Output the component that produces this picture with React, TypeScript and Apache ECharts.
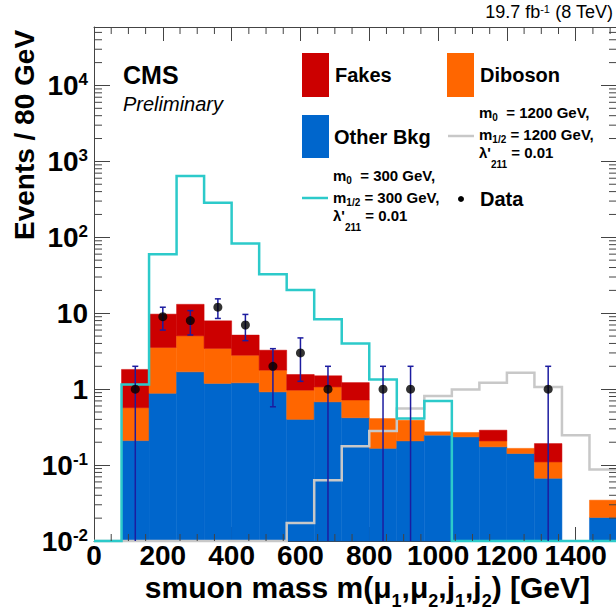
import React, { useEffect, useRef } from "react";
import * as echarts from "echarts";

const FONT = "'Liberation Sans', Arial, Helvetica, sans-serif";

// 80 GeV bins
const binEdges = [0, 80, 160, 240, 320, 400, 480, 560, 640, 720, 800, 880, 960, 1040, 1120, 1200, 1280, 1360, 1440, 1520];

// stacked backgrounds (bottom to top)
const otherBkg = [0, 0.21, 0.88, 1.69, 1.19, 1.21, 0.92, 0.4, 0.68, 0.42, 0.166, 0.208, 0.248, 0.235, 0.174, 0.142, 0.067, 0, 0.0204];
const diboson = [0, 0.36, 2.66, 3.35, 2.25, 1.59, 0.86, 0.57, 0.39, 0.3, 0.244, 0.182, 0.026, 0.034, 0.034, 0.024, 0.043, 0, 0.0141];
const fakes = [0, 1.25, 6.19, 8.06, 4.5, 2.35, 1.48, 0.59, 0.43, 0.5, 0, 0, 0, 0, 0.08, 0, 0.082, 0, 0];

// signal hypotheses
const signal300 = [0, 1.15, 60, 640, 285, 83, 32.7, 20.2, 8.3, 4.0, 1.34, 0.41, 0.7, 0, 0, 0, 0, 0, 0];
const signal1200 = [0, 0, 0, 0, 0, 0, 0, 0.0173, 0.063, 0.177, 0.282, 0.557, 0.81, 0.99, 1.21, 1.64, 1.07, 0.248, 0.0875];

// observed events per bin
const dataEvents = [0, 1, 9, 8, 12, 7, 2, 3, 1, 0, 1, 1, 0, 0, 0, 0, 1, 0, 0];

const xTickLabels = ["0", "200", "400", "600", "800", "1000", "1200", "1400"];

const X_MIN = 0;
const X_MAX = 1520;
const Y_MIN = 0.01;
const Y_MAX = Math.pow(10, 4.77);

const C_FAKES = "#cc0000";
const C_DIBOSON = "#ff6600";
const C_OTHER = "#0066cc";
const C_CYAN = "#2ccaca";
const C_GRAY = "#c8c8c8";
const C_ERR = "#1c1ca0";
const C_FRAME = "#444";

// minor tick positions
const xMinor: number[] = [];
for (let v = 50; v < X_MAX; v += 50) if (v % 200 !== 0) xMinor.push(v);
const yMinor: number[] = [];
for (let e = -2; e <= 4; e++) for (let k = 2; k <= 9; k++) {
  const v = k * Math.pow(10, e);
  if (v < Y_MAX) yMinor.push(v);
}

const binCenters = binEdges.slice(0, -1).map((e, i) => (e + binEdges[i + 1]) / 2);
const dataPoints = dataEvents
  .map((n, i) => [binCenters[i], n])
  .filter((p) => p[1] > 0);

const yLabel = (v: number) => {
  const e = Math.log10(v);
  const r = Math.round(e);
  if (Math.abs(e - r) > 1e-6) return "";
  if (r === 0) return "{b|1}";
  if (r === 1) return "{b|10}";
  return `{b|10}{p|${r}}`;
};

const bold = (size: number, extra: any = {}) => ({
  fontFamily: FONT,
  fontWeight: "bold",
  fontSize: size,
  lineHeight: size,
  verticalAlign: "top",
  fill: "#000",
  color: "#000",
  ...extra,
});

const legendRich = {
  t: bold(15),
  s: bold(10, { padding: [8, 0, 0, 0] }),
  l: bold(10, { padding: [15, 0, 0, 0] }),
};

const legendLine = (x: number, yc: number, text: string) => ({
  type: "text",
  x,
  y: yc - 7.5,
  silent: true,
  style: { text, rich: legendRich, textAlign: "left", textVerticalAlign: "top" },
});

const lineEl = (x1: number, y1: number, x2: number, y2: number, stroke: string, w = 1) => ({
  type: "line",
  shape: { x1, y1, x2, y2 },
  style: { stroke, lineWidth: w },
});

const stepSeries = (values: number[], color: string, z: number) => ({
  type: "custom",
  coordinateSystem: "cartesian2d",
  clip: false,
  silent: true,
  z,
  data: [[X_MIN, Y_MIN]],
  renderItem: (_p: any, api: any) => {
    const pts: number[][] = [];
    values.forEach((v, i) => {
      const y = Math.max(v, Y_MIN);
      pts.push(api.coord([binEdges[i], y]), api.coord([binEdges[i + 1], y]));
    });
    return {
      type: "polyline",
      shape: { points: pts },
      style: { stroke: color, lineWidth: 2.5, fill: null },
    };
  },
});

const axisCommon = {
  axisLine: { show: true, onZero: false, lineStyle: { color: C_FRAME, width: 1 } },
  splitLine: { show: false },
};

const option: any = {
  animation: false,
  backgroundColor: "#fff",
  grid: { left: 94, top: 27, width: 523, height: 514, containLabel: false },
  xAxis: [
    {
      type: "value",
      min: X_MIN,
      max: X_MAX,
      interval: 200,
      position: "bottom",
      ...axisCommon,
      axisTick: { show: true, inside: true, length: 14, lineStyle: { color: C_FRAME } },
      axisLabel: {
        margin: 3,
        fontFamily: FONT,
        fontWeight: "bold",
        fontSize: 28,
        lineHeight: 22,
        color: "#000",
        formatter: (v: number) => {
          const i = Math.round(v / 200);
          return Math.abs(v - i * 200) < 1e-6 && xTickLabels[i] !== undefined ? xTickLabels[i] : "";
        },
      },
    },
    {
      type: "value",
      min: X_MIN,
      max: X_MAX,
      interval: 200,
      position: "top",
      ...axisCommon,
      axisTick: { show: true, inside: true, length: 14, lineStyle: { color: C_FRAME } },
      axisLabel: { show: false },
    },
  ],
  yAxis: [
    {
      type: "log",
      logBase: 10,
      min: Y_MIN,
      max: Y_MAX,
      position: "left",
      ...axisCommon,
      axisTick: { show: true, inside: true, length: 16, lineStyle: { color: C_FRAME } },
      axisLabel: {
        margin: 6,
        formatter: yLabel,
        rich: {
          b: bold(28),
          p: bold(17),
        },
      },
    },
    {
      type: "log",
      logBase: 10,
      min: Y_MIN,
      max: Y_MAX,
      position: "right",
      ...axisCommon,
      axisTick: { show: true, inside: true, length: 16, lineStyle: { color: C_FRAME } },
      axisLabel: { show: false },
    },
  ],
  series: [
    {
      // stacked background histograms
      type: "custom",
      coordinateSystem: "cartesian2d",
      silent: true,
      z: 2,
      data: binEdges.slice(0, -1).map((e, i) => [e, binEdges[i + 1], Math.max(otherBkg[i] + diboson[i] + fakes[i], Y_MIN)]),
      encode: { x: [0, 1], y: 2 },
      renderItem: (params: any, api: any) => {
        const i = params.dataIndex;
        const x0 = binEdges[i];
        const x1 = binEdges[i + 1];
        const layers: [number, string][] = [
          [otherBkg[i], C_OTHER],
          [diboson[i], C_DIBOSON],
          [fakes[i], C_FAKES],
        ];
        let lower = 0;
        const children: any[] = [];
        for (const [v, color] of layers) {
          if (v <= 0) continue;
          const upper = lower + v;
          const p0 = api.coord([x0, Math.max(lower, Y_MIN)]);
          const p1 = api.coord([x1, upper]);
          children.push({
            type: "rect",
            shape: { x: p0[0], y: p1[1], width: p1[0] - p0[0], height: p0[1] - p1[1] },
            style: { fill: color, stroke: color, lineWidth: 0.5 },
          });
          lower = upper;
        }
        return { type: "group", children };
      },
    },
    stepSeries(signal1200, C_GRAY, 4),
    stepSeries(signal300, C_CYAN, 5),
    {
      // minor ticks on all four sides
      type: "custom",
      coordinateSystem: "cartesian2d",
      silent: true,
      clip: false,
      z: 6,
      data: [[X_MIN, Y_MIN]],
      renderItem: (_p: any, api: any) => {
        const children: any[] = [];
        const xl = api.coord([X_MIN, Y_MIN])[0];
        const xr = api.coord([X_MAX, Y_MIN])[0];
        const yb = api.coord([X_MIN, Y_MIN])[1];
        const yt = api.coord([X_MIN, Y_MAX])[1];
        for (const v of yMinor) {
          const y = api.coord([X_MIN, v])[1];
          children.push(lineEl(xl, y, xl + 8, y, C_FRAME), lineEl(xr, y, xr - 8, y, C_FRAME));
        }
        for (const v of xMinor) {
          const x = api.coord([v, Y_MIN])[0];
          children.push(lineEl(x, yb, x, yb - 7, C_FRAME), lineEl(x, yt, x, yt + 7, C_FRAME));
        }
        return { type: "group", children };
      },
    },
    {
      // statistical uncertainties on the data
      type: "custom",
      coordinateSystem: "cartesian2d",
      silent: true,
      z: 7,
      data: dataPoints.map(([x, n]) => [x, Math.max(n - Math.sqrt(n), Y_MIN), n + Math.sqrt(n)]),
      encode: { x: 0, y: [1, 2] },
      renderItem: (_p: any, api: any) => {
        const x = api.value(0);
        const lo = api.value(1);
        const hi = api.value(2);
        const pLo = api.coord([x, lo]);
        const pHi = api.coord([x, hi]);
        const children: any[] = [
          lineEl(pLo[0], pLo[1], pHi[0], pHi[1], C_ERR, 1.5),
          lineEl(pHi[0] - 3, pHi[1], pHi[0] + 3, pHi[1], C_ERR, 1.5),
        ];
        if (lo > Y_MIN) children.push(lineEl(pLo[0] - 3, pLo[1], pLo[0] + 3, pLo[1], C_ERR, 1.5));
        return { type: "group", children };
      },
    },
    {
      type: "scatter",
      silent: true,
      z: 8,
      symbol: "circle",
      symbolSize: 9,
      itemStyle: { color: "#000" },
      data: dataPoints,
    },
  ],
  graphic: [
    {
      type: "text",
      x: 613,
      y: 3,
      silent: true,
      style: {
        text: "{n|19.7 fb}{p|-1}{n| (8 TeV)}",
        textAlign: "right",
        textVerticalAlign: "top",
        rich: {
          n: { fontFamily: FONT, fontSize: 18, lineHeight: 18, verticalAlign: "top", fill: "#000" },
          p: { fontFamily: FONT, fontSize: 11, lineHeight: 11, verticalAlign: "top", fill: "#000" },
        },
      },
    },
    {
      type: "text",
      x: 24,
      y: 135,
      rotation: Math.PI / 2,
      silent: true,
      style: {
        text: "Events / 80 GeV",
        fontFamily: FONT,
        fontWeight: "bold",
        fontSize: 28,
        fill: "#000",
        textAlign: "center",
        textVerticalAlign: "middle",
      },
    },
    {
      type: "text",
      x: 590,
      y: 572,
      silent: true,
      style: {
        text: "{t|smuon mass m(μ}{s|1}{t|,μ}{s|2}{t|,j}{s|1}{t|,j}{s|2}{t|) [GeV]}",
        textAlign: "right",
        textVerticalAlign: "top",
        rich: {
          t: bold(30, { lineHeight: 24 }),
          s: bold(18, { padding: [20, 0, 0, 0] }),
        },
      },
    },
    {
      type: "text",
      x: 123,
      y: 75,
      silent: true,
      style: {
        text: "CMS",
        fontFamily: FONT,
        fontWeight: "bold",
        fontSize: 25,
        fill: "#000",
        textAlign: "left",
        textVerticalAlign: "middle",
      },
    },
    {
      type: "text",
      x: 123,
      y: 104,
      silent: true,
      style: {
        text: "Preliminary",
        fontFamily: FONT,
        fontStyle: "italic",
        fontSize: 20,
        fill: "#000",
        textAlign: "left",
        textVerticalAlign: "middle",
      },
    },
    // legend
    { type: "rect", silent: true, shape: { x: 302, y: 53, width: 27, height: 44 }, style: { fill: C_FAKES } },
    { type: "rect", silent: true, shape: { x: 447, y: 53, width: 27, height: 44 }, style: { fill: C_DIBOSON } },
    { type: "rect", silent: true, shape: { x: 302, y: 115, width: 27, height: 43 }, style: { fill: C_OTHER } },
    {
      type: "text",
      x: 335,
      y: 75,
      silent: true,
      style: { text: "Fakes", fontFamily: FONT, fontWeight: "bold", fontSize: 20, fill: "#000", textAlign: "left", textVerticalAlign: "middle" },
    },
    {
      type: "text",
      x: 480,
      y: 75,
      silent: true,
      style: { text: "Diboson", fontFamily: FONT, fontWeight: "bold", fontSize: 20, fill: "#000", textAlign: "left", textVerticalAlign: "middle" },
    },
    {
      type: "text",
      x: 334,
      y: 137,
      silent: true,
      style: { text: "Other Bkg", fontFamily: FONT, fontWeight: "bold", fontSize: 20, fill: "#000", textAlign: "left", textVerticalAlign: "middle" },
    },
    { type: "line", silent: true, shape: { x1: 302, y1: 198, x2: 328, y2: 198 }, style: { stroke: C_CYAN, lineWidth: 2.5 } },
    legendLine(333, 175, "{t|m}{s|0}{t|  = 300 GeV,}"),
    legendLine(333, 197, "{t|m}{s|1/2}{t| = 300 GeV,}"),
    legendLine(333, 215, "{t|λ'}{l|211}{t| = 0.01}"),
    { type: "line", silent: true, shape: { x1: 448, y1: 136, x2: 474, y2: 136 }, style: { stroke: C_GRAY, lineWidth: 2.5 } },
    legendLine(479, 112, "{t|m}{s|0}{t|  = 1200 GeV,}"),
    legendLine(479, 134, "{t|m}{s|1/2}{t| = 1200 GeV,}"),
    legendLine(479, 152, "{t|λ'}{l|211}{t| = 0.01}"),
    { type: "circle", silent: true, shape: { cx: 461, cy: 199, r: 3 }, style: { fill: "#000" } },
    {
      type: "text",
      x: 480,
      y: 199,
      silent: true,
      style: { text: "Data", fontFamily: FONT, fontWeight: "bold", fontSize: 20, fill: "#000", textAlign: "left", textVerticalAlign: "middle" },
    },
  ],
};

export default function App() {
  const ref = useRef<HTMLDivElement>(null);
  useEffect(() => {
    if (!ref.current) return;
    const chart = echarts.init(ref.current, undefined, { renderer: "svg" });
    chart.setOption(option);
    return () => chart.dispose();
  }, []);
  return (
    <div
      style={{
        position: "fixed",
        left: 0,
        top: 0,
        width: 616,
        height: 610,
        overflow: "hidden",
        background: "#fff",
      }}
    >
      <div ref={ref} style={{ width: 640, height: 610 }} />
    </div>
  );
}
